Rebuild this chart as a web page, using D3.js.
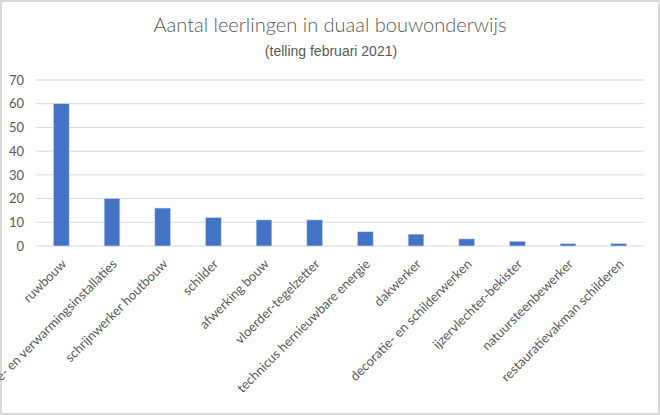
<!DOCTYPE html>
<html>
<head>
<meta charset="utf-8">
<script src="https://cdn.jsdelivr.net/npm/d3@7"></script>
<style>
  body { margin: 0; background: #fff; }
  .axis text { fill: #595959; font-family: Lato, "Open Sans", sans-serif; font-size: 13px; }
</style>
</head>
<body>
<div id="chart"></div>
<script>
// categories and counts
var categories = [
  "ruwbouw",
  "monteur sanitaire- en verwarmingsinstallaties",
  "schrijnwerker houtbouw",
  "schilder",
  "afwerking bouw",
  "vloerder-tegelzetter",
  "technicus hernieuwbare energie",
  "dakwerker",
  "decoratie- en schilderwerken",
  "ijzervlechter-bekister",
  "natuursteenbewerker",
  "restauratievakman schilderen"
];
var counts = [60, 20, 16, 12, 11, 11, 6, 5, 3, 2, 1, 1];
var yTicks = [0, 10, 20, 30, 40, 50, 60, 70];

var fullWidth = 660,
    fullHeight = 415;
var margin = {top: 80, right: 16, bottom: 169, left: 36},
    width = fullWidth - margin.left - margin.right,
    height = fullHeight - margin.top - margin.bottom;

var svg = d3.select("#chart").append("svg")
  .attr("width", fullWidth)
  .attr("height", fullHeight);

// chart border
svg.append("rect")
  .attr("x", 1).attr("y", 1)
  .attr("width", fullWidth - 2).attr("height", fullHeight - 2)
  .attr("fill", "#fff")
  .attr("stroke", "#d9d9d9")
  .attr("stroke-width", 2);

// titles
svg.append("text")
  .attr("x", 330).attr("y", 32)
  .attr("text-anchor", "middle")
  .attr("fill", "#595959")
  .style("font-family", "Lato, 'Open Sans', sans-serif")
  .style("font-weight", 300)
  .style("font-size", "20px")
  .text("Aantal leerlingen in duaal bouwonderwijs");

svg.append("text")
  .attr("x", 331).attr("y", 56)
  .attr("text-anchor", "middle")
  .attr("fill", "#595959")
  .style("font-family", "'Liberation Sans', Arial, sans-serif")
  .style("font-size", "14px")
  .text("(telling februari 2021)");

var g = svg.append("g")
  .attr("transform", "translate(" + margin.left + "," + margin.top + ")");

var x = d3.scaleBand()
  .domain(categories)
  .range([0, width])
  .paddingInner(0.69)
  .paddingOuter(0.345);

var y = d3.scaleLinear()
  .domain([0, 70])
  .range([height, 0]);

// gridlines
g.selectAll(".grid")
  .data(yTicks)
  .enter()
  .append("line")
  .attr("class", "grid")
  .attr("x1", 0).attr("x2", width)
  .attr("y1", function(d) { return y(d); })
  .attr("y2", function(d) { return y(d); })
  .attr("stroke", "#d9d9d9")
  .attr("stroke-width", 1);

// y axis labels only
var yAxis = g.append("g")
  .attr("class", "axis")
  .call(d3.axisLeft(y).tickValues(yTicks).tickSize(0).tickPadding(12));
yAxis.select(".domain").remove();

// bars
g.selectAll(".bar")
  .data(counts)
  .enter()
  .append("rect")
  .attr("class", "bar")
  .attr("x", function(d, i) { return x(categories[i]); })
  .attr("width", x.bandwidth())
  .attr("y", function(d) { return y(d); })
  .attr("height", function(d) { return height - y(d); })
  .attr("fill", "#4472c4")
  .attr("stroke", "#c9d6ee")
  .attr("stroke-width", 0.6);

// x axis with rotated labels
var xAxis = g.append("g")
  .attr("class", "axis")
  .attr("transform", "translate(0," + height + ")")
  .call(d3.axisBottom(x).tickSize(0).tickPadding(0));
xAxis.select(".domain").remove();
xAxis.selectAll("text")
  .attr("text-anchor", "end")
  .attr("dy", "0.2em")
  .attr("transform", "translate(4,17) rotate(-45)");
</script>
</body>
</html>
